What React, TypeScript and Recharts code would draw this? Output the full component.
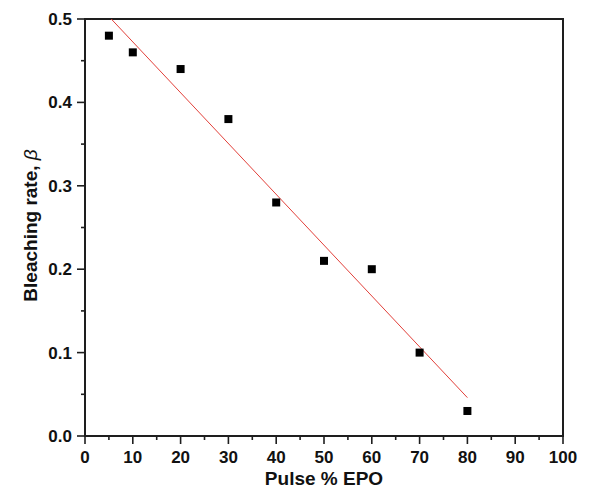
import React from "react";
import { ScatterChart, Scatter, XAxis, YAxis, Label, ReferenceArea } from "recharts";

// Measured bleaching rate at each EPO pulse percentage
const pulsePercent = [5, 10, 20, 30, 40, 50, 60, 70, 80];
const bleachingRate = [0.48, 0.46, 0.44, 0.38, 0.28, 0.21, 0.2, 0.1, 0.03];

// End points of the linear fit through the measurements
const fitPulse = [5, 80];
const fitRate = [0.503, 0.046];

// Axis ticks (majors carry labels, the in-between ones are minor)
const xTicks = [0, 5, 10, 15, 20, 25, 30, 35, 40, 45, 50, 55, 60, 65, 70, 75, 80, 85, 90, 95, 100];
const yTicks = [0, 0.05, 0.1, 0.15, 0.2, 0.25, 0.3, 0.35, 0.4, 0.45, 0.5];

const points = pulsePercent.map((x, i) => ({ x, y: bleachingRate[i] }));
const fitLine = fitPulse.map((x, i) => ({ x, y: fitRate[i] }));

const FONT = "Arial, 'Liberation Sans', Helvetica, sans-serif";
const AXIS = "#1e1e1e";
const MAJOR = 8;
const MINOR = 4;

const isMajorX = (v: number) => Math.round(v) % 10 === 0;
const isMajorY = (v: number) => Math.round(v * 100) % 10 === 0;

// Tick marks are drawn as short paths
const Mark = ({ x1, y1, x2, y2 }: { x1: number; y1: number; x2: number; y2: number }) => (
  <path d={`M${x1},${y1}L${x2},${y2}`} stroke={AXIS} strokeWidth={1.6} fill="none" />
);

const BottomTick = (props: any) => {
  const { x, y, payload } = props;
  const v = payload.value as number;
  const major = isMajorX(v);
  return (
    <g>
      <Mark x1={x} y1={y} x2={x} y2={y + (major ? MAJOR : MINOR)} />
      {major && (
        <text x={x} y={y + 27} textAnchor="middle" fontFamily={FONT} fontWeight="bold" fontSize={17} fill="#111">
          {v}
        </text>
      )}
    </g>
  );
};

const TopTick = (props: any) => {
  const { x, y, payload } = props;
  const major = isMajorX(payload.value);
  return <Mark x1={x} y1={y} x2={x} y2={y - (major ? MAJOR : MINOR)} />;
};

const LeftTick = (props: any) => {
  const { x, y, payload } = props;
  const v = payload.value as number;
  const major = isMajorY(v);
  return (
    <g>
      <Mark x1={x} y1={y} x2={x - (major ? MAJOR : MINOR)} y2={y} />
      {major && (
        <text x={x - 13} y={y + 6} textAnchor="end" fontFamily={FONT} fontWeight="bold" fontSize={17} fill="#111">
          {v.toFixed(1)}
        </text>
      )}
    </g>
  );
};

const RightTick = (props: any) => {
  const { x, y, payload } = props;
  const major = isMajorY(payload.value);
  return <Mark x1={x} y1={y} x2={x + (major ? MAJOR : MINOR)} y2={y} />;
};

const XTitle = (props: any) => {
  const vb = props.viewBox;
  return (
    <text x={vb.x + vb.width / 2} y={485} textAnchor="middle" fontFamily={FONT} fontWeight="bold" fontSize={19} fill="#111">
      Pulse % EPO
    </text>
  );
};

const YTitle = (props: any) => {
  const vb = props.viewBox;
  const cx = 37;
  const cy = vb.y + vb.height / 2 - 2;
  return (
    <text
      x={cx}
      y={cy}
      transform={`rotate(-90, ${cx}, ${cy})`}
      textAnchor="middle"
      fontFamily={FONT}
      fontWeight="bold"
      fontSize={19}
      fill="#111"
    >
      Bleaching rate,{" "}
      <tspan fontStyle="italic" fontWeight="normal">
        β
      </tspan>
    </text>
  );
};

const SquareMarker = (props: any) => {
  const { cx, cy } = props;
  return <rect x={cx - 4} y={cy - 4} width={8} height={8} fill="#000" />;
};

const NoMarker = () => <g />;

const axisCommon = {
  type: "number" as const,
  interval: 0 as const,
  tickSize: 0,
  tickMargin: 0,
  tickLine: false,
  axisLine: false,
};

export default function App() {
  return (
    <div style={{ position: "absolute", left: 0, top: 0, width: 597, height: 491, background: "#fff" }}>
      <ScatterChart width={597} height={491} margin={{ top: 19, right: 34, bottom: 0, left: 0 }}>
        <XAxis {...axisCommon} xAxisId="bottom" dataKey="x" orientation="bottom" domain={[0, 100]} ticks={xTicks} height={55} tick={<BottomTick />}>
          <Label content={<XTitle />} />
        </XAxis>
        <XAxis {...axisCommon} xAxisId="top" dataKey="x" orientation="top" domain={[0, 100]} ticks={xTicks} height={0} tick={<TopTick />} />
        <YAxis {...axisCommon} yAxisId="left" dataKey="y" orientation="left" domain={[0, 0.5]} ticks={yTicks} width={85} allowDataOverflow tick={<LeftTick />}>
          <Label content={<YTitle />} />
        </YAxis>
        <YAxis {...axisCommon} yAxisId="right" dataKey="y" orientation="right" domain={[0, 0.5]} ticks={yTicks} width={0} tick={<RightTick />} />
        {/* Box frame around the plot area */}
        <ReferenceArea
          xAxisId="bottom"
          yAxisId="left"
          x1={0}
          x2={100}
          y1={0}
          y2={0.5}
          fill="none"
          fillOpacity={0}
          stroke={AXIS}
          strokeWidth={2}
          strokeOpacity={1}
          ifOverflow="visible"
        />
        <Scatter
          xAxisId="bottom"
          yAxisId="left"
          data={fitLine}
          line={{ stroke: "#e2403a", strokeWidth: 1 }}
          shape={<NoMarker />}
          isAnimationActive={false}
        />
        <Scatter xAxisId="bottom" yAxisId="left" data={points} shape={<SquareMarker />} isAnimationActive={false} />
      </ScatterChart>
    </div>
  );
}
